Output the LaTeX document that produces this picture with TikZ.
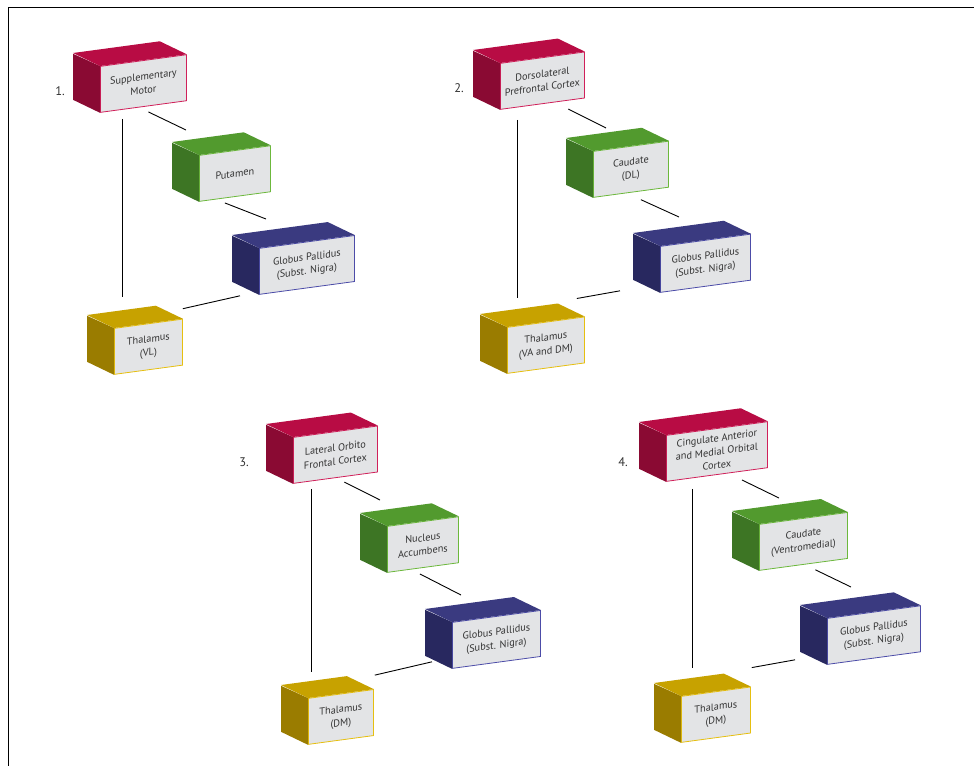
\documentclass[tikz,border=0pt]{standalone}
\usepackage{fontspec}
\setmainfont{PT Sans}

\definecolor{cortexTop}{HTML}{B80C44}
\definecolor{cortexSide}{HTML}{8A0A33}
\definecolor{cortexLine}{HTML}{D0205A}
\definecolor{striatumTop}{HTML}{529A2E}
\definecolor{striatumSide}{HTML}{3D7524}
\definecolor{striatumLine}{HTML}{6CB83C}
\definecolor{pallidumTop}{HTML}{3A3A80}
\definecolor{pallidumSide}{HTML}{28285F}
\definecolor{pallidumLine}{HTML}{4C4CA8}
\definecolor{thalamusTop}{HTML}{C7A200}
\definecolor{thalamusSide}{HTML}{9A7C00}
\definecolor{thalamusLine}{HTML}{E6BF10}
\definecolor{faceGrey}{HTML}{E3E4E6}
\definecolor{labelGrey}{HTML}{333333}

\tikzset{
  face/.style={draw=#1Line, fill=faceGrey, line width=0.8pt, yslant=0.135,
    anchor=north west, inner sep=0pt, minimum height=46pt, align=center,
    text=labelGrey, font=\fontsize{10.3}{13.5}\selectfont},
  link/.style={line width=0.9pt, black},
  num/.style={text=labelGrey, font=\fontsize{12.5}{14}\selectfont}
}

% name, x, y, width, colour, text
\newcommand\brainbox[6]{%
  \path (#2,#3) node[face=#5, minimum width=#4pt] (#1) {#6};
  \fill[#5Side] (#1.north west) -- (#1.south west) -- ++(-27,-13) -- ++(0,-46) -- cycle;
  \fill[#5Top] (#1.north west) -- (#1.north east) -- ++(-27,-13)
    -- ([shift={(-27,-13)}]#1.north west) -- cycle;
}

\begin{document}
\begin{tikzpicture}[x=1pt,y=-1pt]
  \useasboundingbox (0,0) rectangle (974,766);
  \draw[line width=1pt] (974,7) -- (8,7) -- (8,766);

  % 1. motor loop
  \node[num] (n1) at (60,91) {1.};
  \brainbox{sma}{100}{66}{86}{cortex}{Supplementary\\Motor}
  \brainbox{put}{199}{155}{71}{striatum}{Putamen}
  \brainbox{gpa}{259}{248}{95}{pallidum}{Globus Pallidus\\(Subst. Nigra)}
  \brainbox{tha}{114}{328}{68}{thalamus}{Thalamus\\(VL)}
  \draw[link] ([shift={(22,6)}]sma.south west) -- ([shift={(8,-31)}]tha.north west);
  \draw[link] ([shift={(5,5)}]sma.south) -- ([shift={(-13,-25)}]put.north west);
  \draw[link] ([shift={(-10,6)}]put.south) -- ([shift={(7,-29)}]gpa.north west);
  \draw[link] ([shift={(0,-10)}]tha.north east) -- ([shift={(-19,1)}]gpa.south west);

  % 2. dorsolateral loop
  \node[num] (n2) at (459,88) {2.};
  \brainbox{dlp}{500}{63}{84}{cortex}{Dorsolateral\\Prefrontal Cortex}
  \brainbox{cdl}{593}{151}{75}{striatum}{Caudate\\(DL)}
  \brainbox{gpb}{660}{246}{90}{pallidum}{Globus Pallidus\\(Subst. Nigra)}
  \brainbox{thb}{507}{327}{77}{thalamus}{Thalamus\\(VA and DM)}
  \draw[link] ([shift={(17,10)}]dlp.south west) -- ([shift={(10,-29)}]thb.north west);
  \draw[link] ([shift={(26,5)}]dlp.south) -- ([shift={(13,-23)}]cdl.north west);
  \draw[link] ([shift={(10,7)}]cdl.south) -- ([shift={(19,-29)}]gpb.north west);
  \draw[link] ([shift={(-8,-18)}]thb.north east) -- ([shift={(-40,-2)}]gpb.south west);

  % 3. lateral orbitofrontal loop
  \node[num] (n3) at (244,462) {3.};
  \brainbox{lof}{293}{437}{84}{cortex}{Lateral Orbito\\Frontal Cortex}
  \brainbox{nac}{387}{526}{71}{striatum}{Nucleus\\Accumbens}
  \brainbox{gpc}{452}{622}{88}{pallidum}{Globus Pallidus\\(Subst. Nigra)}
  \brainbox{thc}{308}{698}{65}{thalamus}{Thalamus\\(DM)}
  \draw[link] ([shift={(18,5)}]lof.south west) -- ([shift={(3,-26)}]thc.north west);
  \draw[link] ([shift={(9,4)}]lof.south) -- ([shift={(-7,-26)}]nac.north west);
  \draw[link] ([shift={(-3,6)}]nac.south) -- ([shift={(9,-27)}]gpc.north west);
  \draw[link] ([shift={(1,-14)}]thc.north east) -- ([shift={(-20,-7)}]gpc.south west);

  % 4. anterior cingulate loop
  \node[num] (n4) at (623,462) {4.};
  \brainbox{cac}{666}{435}{101}{cortex}{Cingulate Anterior\\and Medial Orbital\\Cortex}
  \brainbox{cvm}{759}{524}{88}{striatum}{Caudate\\(Ventromedial)}
  \brainbox{gpd}{827}{618}{93}{pallidum}{Globus Pallidus\\(Subst. Nigra)}
  \brainbox{thd}{681}{696}{69}{thalamus}{Thalamus\\(DM)}
  \draw[link] ([shift={(26,7)}]cac.south west) -- ([shift={(11,-28)}]thd.north west);
  \draw[link] ([shift={(25,5)}]cac.south) -- ([shift={(20,-26)}]cvm.north west);
  \draw[link] ([shift={(12,5)}]cvm.south) -- ([shift={(24,-31)}]gpd.north west);
  \draw[link] ([shift={(1,-19)}]thd.north east) -- ([shift={(-32,-5)}]gpd.south west);
\end{tikzpicture}
\end{document}
